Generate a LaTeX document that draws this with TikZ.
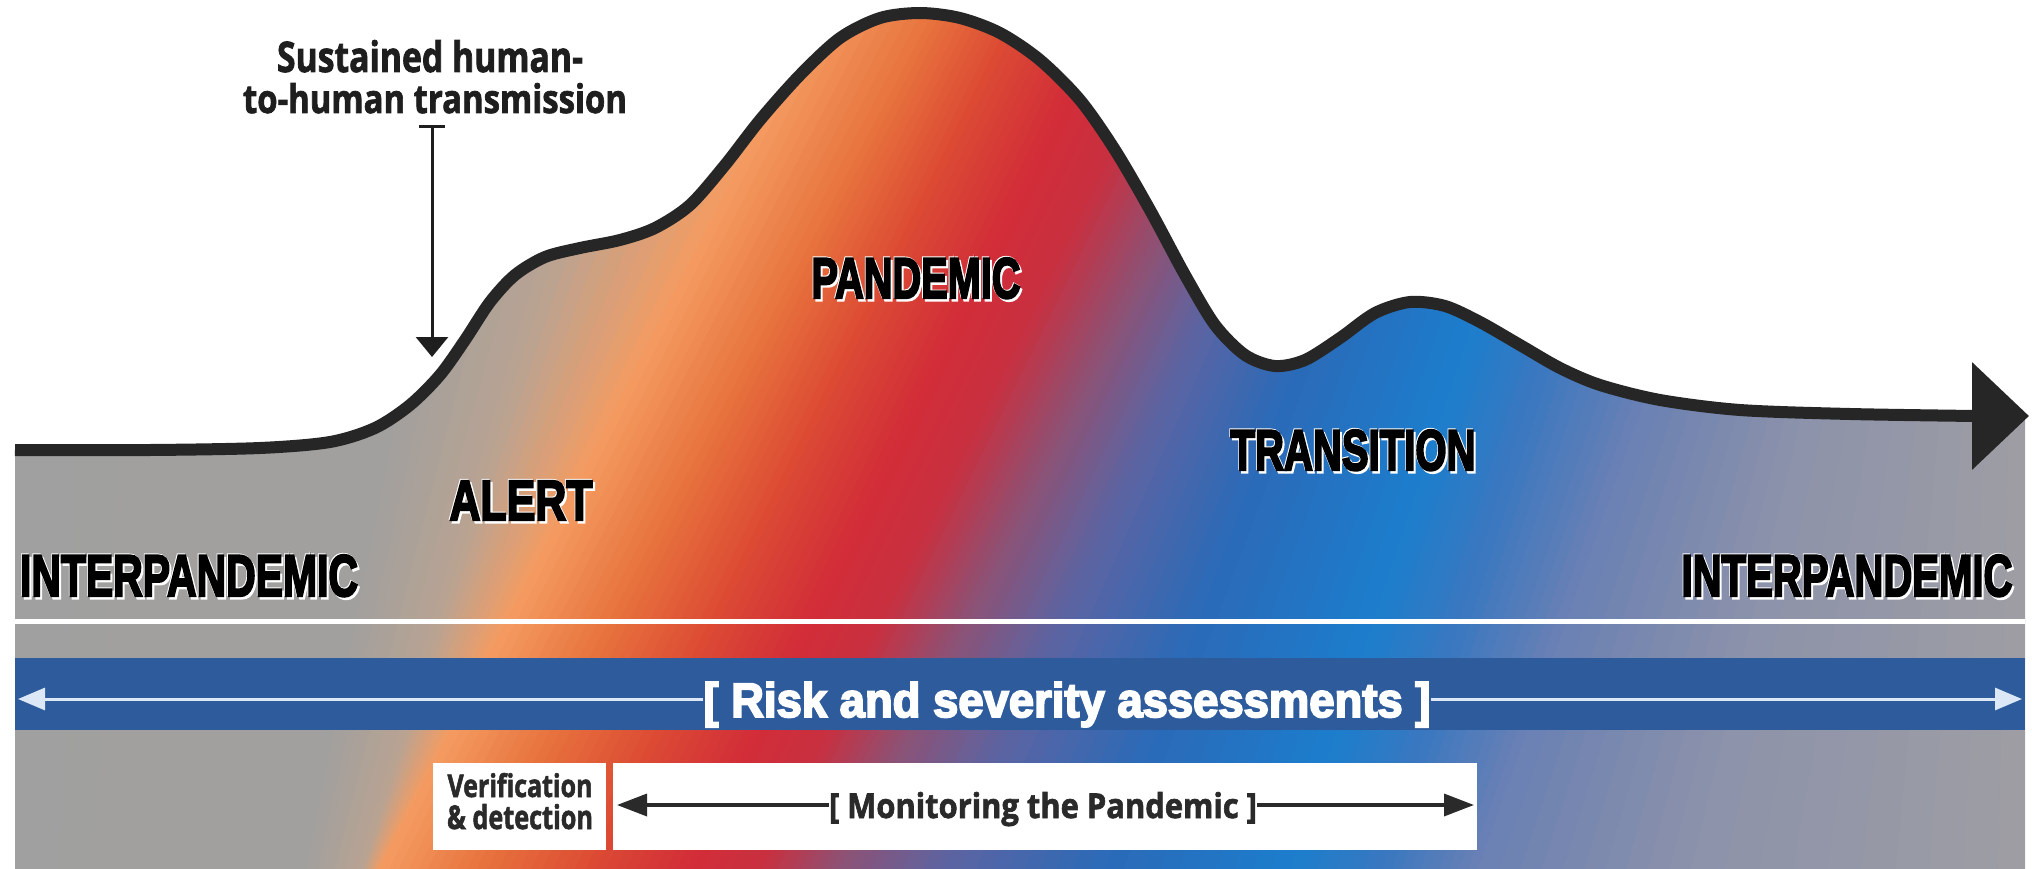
\documentclass[tikz,border=0pt]{standalone}
\usepackage{fontspec}
\usepackage{graphicx}
\setmainfont{Liberation Sans}
\newfontfamily\heavy[FakeBold=4]{Liberation Sans Bold}
\newfontfamily\osansb[FakeBold=2]{Open Sans Bold}
\usetikzlibrary{arrows.meta}
\definecolor{s0}{HTML}{A0A0A0}
\definecolor{s1}{HTML}{A2A09E}
\definecolor{s2}{HTML}{B9A392}
\definecolor{s3}{HTML}{F49C62}
\definecolor{s4}{HTML}{E8743E}
\definecolor{s5}{HTML}{DC4C34}
\definecolor{s6}{HTML}{D22D38}
\definecolor{s7}{HTML}{C83040}
\definecolor{s8}{HTML}{8C5276}
\definecolor{s9}{HTML}{5C64A2}
\definecolor{s10}{HTML}{2B6AB8}
\definecolor{s11}{HTML}{1C7ECD}
\definecolor{s12}{HTML}{3A78C0}
\definecolor{s13}{HTML}{6A80B4}
\definecolor{s14}{HTML}{8C92AA}
\definecolor{s15}{HTML}{9E9EA3}
\definecolor{barblue}{HTML}{2D5B9B}
\definecolor{curvec}{HTML}{262626}
\definecolor{txtdark}{HTML}{1E1E1E}
\definecolor{mondark}{HTML}{2A2A2A}
\definecolor{arrwhite}{HTML}{DCE8F6}
\newcommand{\halo}[1]{\rlap{\kern3pt\raisebox{-2.5pt}{\color{white}#1}}\rlap{\kern-1.2pt\raisebox{1pt}{\color{white}#1}}#1}
\newcommand{\biglbl}[3]{\resizebox{#1}{#2}{\heavy\fontsize{60}{60}\selectfont\color{black}\halo{#3}}}
\begin{document}
\begin{tikzpicture}[x=1pt,y=-1pt,
  lbl/.style={inner sep=0pt, outer sep=0pt, anchor=base},
  wbox/.style={fill=white, draw=none, inner sep=0pt},
  curveline/.style={line width=12pt, draw=curvec, line join=round},
  riskarr/.style={line width=3pt, draw=arrwhite, -{Triangle[length=27pt,width=22pt]}},
  monarr/.style={line width=3.5pt, draw=mondark, -{Triangle[length=30pt,width=22pt]}},
  susarr/.style={line width=3pt, draw=txtdark, arrows={Bar[width=26pt]-Triangle[length=20pt,width=32pt]}}]
\useasboundingbox (0,0) rectangle (2032,869);
% gradient fill under the curve
\begin{scope}
\clip (15,869) -- plot[smooth] coordinates {(15,450) (150,450) (260,448) (330,442) (375,428) (410,405) (440,375) (465,340) (490,302) (515,275) (545,257) (580,248) (620,240) (655,228) (690,205) (725,165) (760,120) (800,75) (840,38) (880,18) (920,13) (960,18) (1000,33) (1040,60) (1080,100) (1115,150) (1150,210) (1185,275) (1215,325) (1245,355) (1275,366) (1305,360) (1340,338) (1375,313) (1410,302) (1445,306) (1480,322) (1520,345) (1560,368) (1600,385) (1660,400) (1740,410) (1850,414) (1975,416)} -- (2025,416) -- (2025,869) -- cycle;
\foreach \ca/\cb/\ta/\tb/\ba/\bb in {s0/s1/0/420/0/330, s1/s2/420/540/330/400, s2/s3/540/670/400/440, s3/s4/670/780/440/540, s4/s5/780/870/540/645, s5/s6/870/965/645/745, s6/s7/965/1040/745/820, s7/s8/1040/1130/820/900, s8/s9/1130/1210/900/1000, s9/s10/1210/1320/1000/1150, s10/s11/1320/1480/1150/1330, s11/s12/1480/1560/1330/1420, s12/s13/1560/1680/1420/1520, s13/s14/1680/1830/1520/1720, s14/s15/1830/2032/1720/2032} {
  \foreach \j in {0,...,9} {
    \pgfmathsetmacro\pa{\j/10}
    \pgfmathsetmacro\pb{(\j+1)/10}
    \pgfmathtruncatemacro\pct{(\j+0.5)*10}
    \colorlet{stripc}{\cb!\pct!\ca}
    \pgfmathsetmacro\ua{\ta+(\tb-\ta)*\pa}
    \pgfmathsetmacro\ub{\ta+(\tb-\ta)*\pb}
    \pgfmathsetmacro\va{\ba+(\bb-\ba)*\pa}
    \pgfmathsetmacro\vb{\ba+(\bb-\ba)*\pb}
    \pgfmathsetmacro\xa{\ua+0.6667*(\ua-\va)}
    \pgfmathsetmacro\xb{\ub+0.6667*(\ub-\vb)+1.5}
    \pgfmathsetmacro\ya{\va-0.2644*(\ua-\va)}
    \pgfmathsetmacro\yb{\vb-0.2644*(\ub-\vb)+1.5}
    \fill[stripc] (\xa,0) -- (\xb,0) -- (\yb,869) -- (\ya,869) -- cycle;
  }
}
\end{scope}
% white line and blue bar
\fill[white] (15,618.5) rectangle (2025,623.5);
\fill[barblue] (15,658) rectangle (2025,730);
% boxes
\node[wbox, minimum width=173pt, minimum height=87pt] (vbox) at (519.5,806.5) {};
\node[wbox, minimum width=864pt, minimum height=87pt] (mbox) at (1045,806.5) {};
% labels
\node[lbl] (interL) at (189,596) {\biglbl{338pt}{42pt}{INTERPANDEMIC}};
\node[lbl] (interR) at (1847,596) {\biglbl{331pt}{42pt}{INTERPANDEMIC}};
\node[lbl] (alert) at (521,520) {\biglbl{143pt}{40pt}{ALERT}};
\node[lbl] (pand) at (916,298) {\biglbl{209pt}{41pt}{PANDEMIC}};
\node[lbl] (trans) at (1353,470) {\biglbl{245pt}{41pt}{TRANSITION}};
\node[lbl] (risk) at (1067,717) {\resizebox{727pt}{35pt}{\heavy\fontsize{45}{45}\selectfont\color{white}[ Risk and severity assessments ]}};
\node[lbl] (mon) at (1043,818) {\resizebox{428pt}{26pt}{\osansb\fontsize{36}{36}\selectfont\color{mondark}[ Monitoring the Pandemic ]}};
\node[lbl] (ver1) at (520,797) {\resizebox{145pt}{24pt}{\osansb\fontsize{32}{32}\selectfont\color{mondark}Verification}};
\node[lbl] (ver2) at (520,829) {\resizebox{146pt}{25pt}{\osansb\fontsize{32}{32}\selectfont\color{mondark}\& detection}};
\node[lbl] (sus1) at (430,72) {\resizebox{306pt}{32pt}{\osansb\fontsize{40}{40}\selectfont\color{txtdark}Sustained human-}};
\node[lbl] (sus2) at (435,113) {\resizebox{384pt}{30pt}{\osansb\fontsize{40}{40}\selectfont\color{txtdark}to-human transmission}};
% arrows
\coordinate (ry) at (0,699);
\coordinate (rL) at (18,699);
\coordinate (rR) at (2022,699);
\draw[riskarr] (risk.west |- ry) -- (rL);
\draw[riskarr] (risk.east |- ry) -- (rR);
\coordinate (mL) at (617,805);
\coordinate (mR) at (1474,805);
\draw[monarr] (mon.west |- mL) -- (mL);
\draw[monarr] (mon.east |- mR) -- (mR);
\coordinate (sTop) at (432,125);
\coordinate (sTip) at (432,357);
\draw[susarr] (sTop) -- (sTip);
% the curve
\coordinate (cEnd) at (2029,416);
\draw[curveline, -{Triangle[length=57pt,width=105pt]}] plot[smooth] coordinates {(15,450) (150,450) (260,448) (330,442) (375,428) (410,405) (440,375) (465,340) (490,302) (515,275) (545,257) (580,248) (620,240) (655,228) (690,205) (725,165) (760,120) (800,75) (840,38) (880,18) (920,13) (960,18) (1000,33) (1040,60) (1080,100) (1115,150) (1150,210) (1185,275) (1215,325) (1245,355) (1275,366) (1305,360) (1340,338) (1375,313) (1410,302) (1445,306) (1480,322) (1520,345) (1560,368) (1600,385) (1660,400) (1740,410) (1850,414) (1975,416)} -- (cEnd);
\end{tikzpicture}
\end{document}
